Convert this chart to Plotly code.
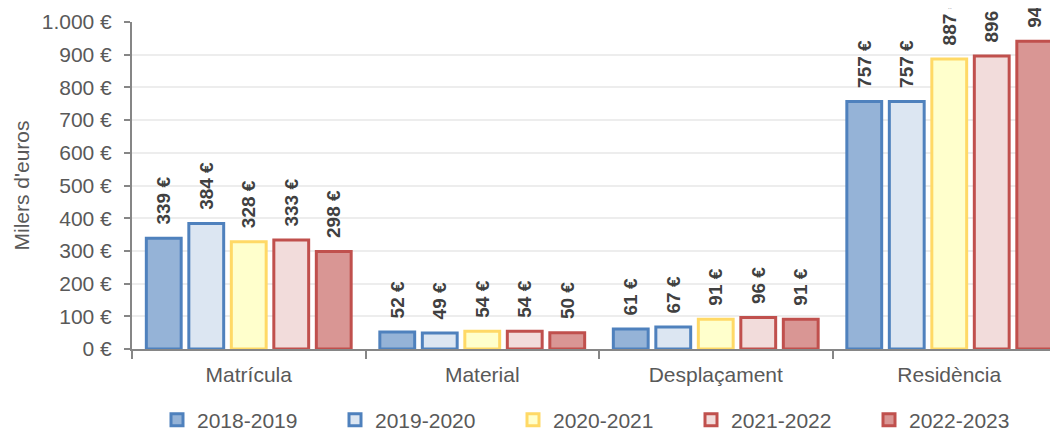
import plotly.graph_objects as go

categories = ["Matrícula", "Material", "Desplaçament", "Residència"]
series_names = ["2018-2019", "2019-2020", "2020-2021", "2021-2022", "2022-2023"]
values_2018_2019 = [339, 52, 61, 757]
values_2019_2020 = [384, 49, 67, 757]
values_2020_2021 = [328, 54, 91, 887]
values_2021_2022 = [333, 54, 96, 896]
values_2022_2023 = [298, 50, 91, 941]
y_tick_vals = [0, 100, 200, 300, 400, 500, 600, 700, 800, 900, 1000]
y_tick_text = ["0 €", "100 €", "200 €", "300 €", "400 €", "500 €", "600 €",
               "700 €", "800 €", "900 €", "1.000 €"]

all_values = [values_2018_2019, values_2019_2020, values_2020_2021,
              values_2021_2022, values_2022_2023]
fills = ["#95B3D7", "#DCE6F2", "#FFFFCC", "#F2DCDB", "#D99694"]
borders = ["#4F81BD", "#4F81BD", "#FFD966", "#C0504D", "#C0504D"]

FONT = "Liberation Sans, Arial, sans-serif"
TXT = "#595959"
W, H = 1058, 432

fig = go.Figure()
legend_layouts = {}
for i, (name, vals, fc, lc) in enumerate(zip(series_names, all_values, fills, borders)):
    lname = "legend" if i == 0 else f"legend{i + 1}"
    fig.add_trace(go.Bar(
        name=name,
        x=categories,
        y=vals,
        marker=dict(color=fc, line=dict(color=lc, width=3)),
        text=["\u00a0\u00a0" + f"{v} €" for v in vals],
        textposition="outside",
        textangle=-90,
        cliponaxis=False,
        constraintext="none",
        textfont=dict(family=FONT, size=19, color="#404040", weight="bold"),
        hoverinfo="skip",
        legend=lname,
    ))
    legend_layouts[lname] = dict(
        orientation="h",
        xref="container", yref="container",
        x=(149 + i * 178) / W, xanchor="left",
        y=1 - 412 / H, yanchor="middle",
        font=dict(family=FONT, size=21, color=TXT),
        itemwidth=30,
        bgcolor="rgba(0,0,0,0)",
    )

fig.update_layout(
    width=W,
    height=H,
    margin=dict(l=124, r=0, t=14, b=91),
    paper_bgcolor="white",
    plot_bgcolor="white",
    barmode="group",
    bargap=0.09,
    bargroupgap=0.18,
    font=dict(family=FONT, size=21, color=TXT),
    showlegend=True,
    **legend_layouts,
)

fig.update_xaxes(
    type="category",
    range=[-0.5, 3.5],
    automargin=False,
    showline=True, linecolor="#868686", linewidth=2,
    ticks="outside", tickson="boundaries", ticklen=8, tickcolor="#868686", tickwidth=2,
    ticklabelstandoff=6,
    showgrid=False,
    tickfont=dict(family=FONT, size=21, color=TXT),
)
fig.update_yaxes(
    range=[0, 1000],
    automargin=False,
    tickvals=y_tick_vals,
    ticktext=y_tick_text,
    showline=True, linecolor="#868686", linewidth=2,
    ticks="outside", ticklen=6, tickcolor="#868686", tickwidth=2,
    ticklabelstandoff=8,
    showgrid=True, gridcolor="#EDEDED", gridwidth=2,
    zeroline=False,
    tickfont=dict(family=FONT, size=21, color=TXT),
    title=dict(text="Milers d'euros", font=dict(family=FONT, size=21, color=TXT), standoff=6),
)

fig.write_html("out.html")
